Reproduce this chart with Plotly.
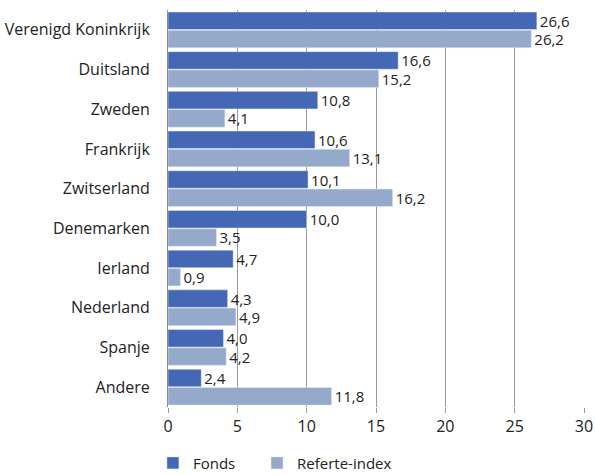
import plotly.graph_objects as go

# Country allocation (%) of the fund versus its benchmark
landen = ["Verenigd Koninkrijk", "Duitsland", "Zweden", "Frankrijk", "Zwitserland",
          "Denemarken", "Ierland", "Nederland", "Spanje", "Andere"]
fonds = [26.6, 16.6, 10.8, 10.6, 10.1, 10.0, 4.7, 4.3, 4.0, 2.4]
referte = [26.2, 15.2, 4.1, 13.1, 16.2, 3.5, 0.9, 4.9, 4.2, 11.8]
x_ticks = [0, 5, 10, 15, 20, 25, 30]

FONT = "Open Sans, Noto Sans, sans-serif"
TXT = "#222222"


def fmt(v):
    return f"{v:.1f}".replace(".", ",")


def bar(name, values, color, legend):
    return go.Bar(
        name=name, y=landen, x=values, orientation="h",
        marker=dict(color=color), legend=legend,
        text=[fmt(v) for v in values], textposition="outside",
        constraintext="none",
        textfont=dict(size=15, color=TXT, family=FONT), cliponaxis=False,
    )


fig = go.Figure()
fig.add_trace(bar("Fonds", fonds, "#4468b5", "legend"))
fig.add_trace(bar("Referte-index", referte, "#95a9cb", "legend2"))

legend_style = dict(orientation="h", xref="container", yref="container",
                    y=0.025, xanchor="left", yanchor="middle",
                    font=dict(size=15, color=TXT), itemwidth=30)

fig.update_layout(
    width=595, height=475,
    margin=dict(l=168, r=11, t=10, b=68, autoexpand=False),
    paper_bgcolor="white", plot_bgcolor="white",
    barmode="group", bargap=0.08, bargroupgap=0.04,
    font=dict(family=FONT, size=15, color=TXT),
    showlegend=True,
    legend=dict(x=0.257, **legend_style),
    legend2=dict(x=0.432, **legend_style),
    separators=",.",
)
fig.update_xaxes(
    range=[0, 30], tickvals=x_ticks, ticktext=[str(t) for t in x_ticks],
    showgrid=True, gridcolor="#9a9a9a", gridwidth=1,
    zeroline=False, showline=False, automargin=False,
    ticks="outside", ticklen=5, tickcolor="#9a9a9a",
    tickfont=dict(size=16, color=TXT),
)
fig.update_yaxes(
    autorange="reversed", showgrid=False, showline=True,
    linecolor="#8c8c8c", linewidth=1, automargin=False,
    ticks="", ticklabelstandoff=14,
    tickfont=dict(size=16, color=TXT),
)

fig.write_html("out.html")
